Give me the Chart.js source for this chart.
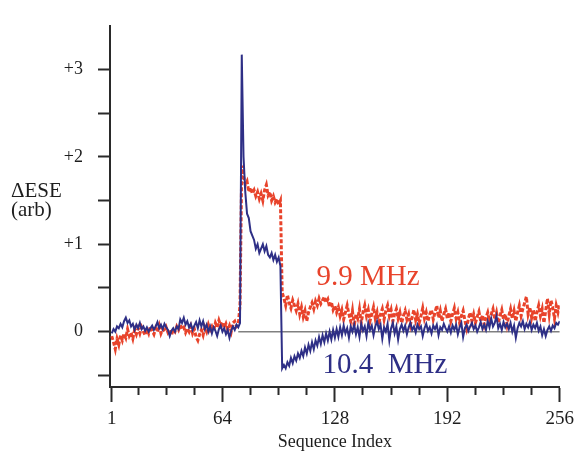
<!DOCTYPE html>
<html>
<head>
<meta charset="utf-8">
<script src="https://cdn.jsdelivr.net/npm/chart.js@4.4.1/dist/chart.umd.min.js"></script>
<style>
  html, body { margin: 0; padding: 0; background: #fff; }
  #wrap { width: 580px; height: 455px; }
</style>
</head>
<body>
<div id="wrap"><canvas id="eseChart" width="580" height="455"></canvas></div>
<script>
// sequence index 1..256
var seqIndex = [];
for (var i = 1; i <= 256; i++) seqIndex.push(i);

// 10.4 MHz trace (blue, solid), one value per sequence index
var trace104 = [
  -0.02, 0.03, 0.00, 0.06, 0.04, 0.09, 0.05, 0.12, 0.16, 0.10, 0.13, 0.06, 0.09, 0.02, 0.08, 0.04,
  0.10, 0.03, 0.06, 0.01, 0.05, 0.00, 0.04, 0.07, 0.02, 0.06, 0.11, 0.04, 0.08, 0.03, 0.09, 0.05,
  0.02, -0.05, 0.01, 0.04, 0.00, 0.06, 0.03, 0.14, 0.10, 0.16, 0.08, 0.12, 0.05, 0.09, 0.02, 0.07,
  0.11, 0.04, 0.13, 0.06, 0.12, 0.03, 0.08, 0.00, 0.06, -0.02, 0.05, 0.01, -0.05, 0.03, 0.07, 0.00,
  0.04, -0.03, 0.02, -0.07, 0.01, 0.06, 0.02, 0.08, 0.05, 0.10, 3.17, 2.00, 1.60, 1.35, 1.30, 1.15,
  1.10, 1.05, 0.95, 1.00, 0.90, 0.95, 1.00, 0.92, 0.98, 0.88, 0.85, 0.90, 0.82, 0.88, 0.80, 0.85,
  0.75, -0.42, -0.38, -0.42, -0.35, -0.39, -0.30, -0.36, -0.28, -0.33, -0.25, -0.30, -0.22, -0.28, -0.18, -0.25,
  -0.15, -0.22, -0.12, -0.20, -0.10, -0.16, -0.06, -0.14, -0.04, -0.12, -0.02, -0.10, 0.00, -0.09, 0.02, -0.07,
  0.03, -0.06, 0.05, -0.04, 0.07, -0.02, 0.04, -0.07, 0.06, 0.00, 0.08, -0.03, 0.05, -0.06, 0.09, 0.01,
  0.06, -0.05, 0.10, 0.02, 0.07, -0.04, 0.06, 0.12, 0.03, 0.08, -0.08, 0.05, 0.00, 0.09, -0.10, 0.04,
  0.10, -0.02, 0.06, -0.09, 0.03, 0.08, 0.01, 0.07, -0.03, 0.05, 0.10, 0.02, 0.06, -0.01, 0.08, 0.03,
  0.06, -0.05, 0.04, 0.09, 0.01, 0.05, -0.02, 0.07, 0.03, 0.08, -0.04, 0.05, 0.02, 0.09, 0.04, 0.00,
  0.06, -0.01, 0.07, 0.02, 0.08, -0.03, 0.05, 0.10, -0.06, 0.04, 0.08, 0.01, 0.06, 0.10, 0.03, 0.07,
  0.00, 0.05, 0.11, 0.03, 0.08, 0.02, 0.12, 0.05, 0.15, 0.06, 0.10, 0.18, 0.04, 0.09, 0.02, 0.11,
  0.05, 0.09, 0.03, 0.10, 0.00, 0.07, -0.07, 0.04, 0.10, 0.06, 0.12, 0.03, 0.09, 0.05, 0.11, 0.02,
  0.08, 0.04, 0.10, 0.01, 0.06, -0.04, 0.03, -0.05, 0.02, 0.06, 0.01, 0.07, 0.04, 0.10, 0.08, 0.12
];

// 9.9 MHz trace (red, dotted)
var trace99 = [
  -0.05, -0.12, -0.20, -0.08, -0.15, -0.04, -0.10, -0.02, -0.07, 0.03, -0.05, -0.01, -0.08, 0.02, -0.03, 0.04,
  -0.02, 0.05, 0.00, -0.04, 0.03, -0.02, 0.06, 0.01, -0.03, 0.04, 0.00, 0.07, -0.02, 0.03, 0.00, 0.05,
  -0.01, 0.02, -0.04, 0.03, 0.00, 0.06, 0.02, 0.08, 0.03, 0.05, -0.01, 0.04, 0.00, 0.06, -0.02, 0.03,
  -0.06, -0.10, -0.03, 0.02, -0.04, 0.05, 0.00, 0.08, 0.02, 0.06, 0.01, 0.10, 0.05, 0.13, 0.07, 0.11,
  0.04, 0.09, 0.02, 0.07, 0.00, 0.10, 0.12, 0.06, 0.08, 0.30, 1.90, 1.78, 1.68, 1.72, 1.60, 1.65,
  1.58, 1.62, 1.55, 1.60, 1.52, 1.58, 1.50, 1.62, 1.68, 1.56, 1.60, 1.50, 1.55, 1.48, 1.52, 1.45,
  1.50, 0.45, 0.38, 0.30, 0.42, 0.33, 0.27, 0.36, 0.30, 0.24, 0.32, 0.20, 0.28, 0.17, 0.24, 0.12,
  0.22, 0.28, 0.33, 0.26, 0.35, 0.30, 0.38, 0.32, 0.36, 0.40, 0.33, 0.37, 0.28, 0.34, 0.25, 0.30,
  0.22, 0.28, 0.18, 0.25, 0.14, 0.22, 0.30, 0.20, 0.12, 0.24, 0.06, 0.20, 0.15, 0.26, 0.10, 0.22,
  0.30, 0.18, 0.25, 0.12, 0.20, 0.28, 0.15, 0.22, 0.08, 0.20, 0.26, 0.14, 0.24, 0.30, 0.18, 0.25,
  0.12, 0.20, 0.26, 0.15, 0.22, 0.10, 0.18, 0.24, 0.14, 0.20, 0.08, 0.17, 0.25, 0.13, 0.20, 0.10,
  0.18, 0.27, 0.15, 0.22, 0.12, 0.20, 0.25, 0.14, 0.22, 0.30, 0.16, 0.24, 0.12, 0.20, 0.26, 0.15,
  0.22, 0.12, 0.20, 0.27, 0.15, 0.22, 0.10, 0.18, 0.24, 0.13, 0.04, 0.15, 0.22, 0.12, 0.20, 0.10,
  0.17, 0.23, 0.12, 0.19, 0.08, 0.16, 0.22, 0.12, 0.20, 0.26, 0.14, 0.22, 0.10, 0.18, 0.25, 0.14,
  0.20, 0.08, 0.18, 0.26, 0.15, 0.24, 0.12, 0.22, 0.30, 0.18, 0.26, 0.33, 0.40, 0.20, 0.28, 0.16,
  0.25, 0.12, 0.22, 0.30, 0.18, 0.26, 0.10, 0.24, 0.38, 0.20, 0.36, 0.28, 0.15, 0.30, 0.22, 0.32
];

// zero reference line runs from the pulse to the end
var zeroLineFrom = 73;
var zeroLineTo = 256;

var xTickValues = [1, 16, 32, 48, 64, 80, 96, 112, 128, 144, 160, 176, 192, 208, 224, 240, 256];
var xMajorTicks = [1, 64, 128, 192, 256];
var yTickValues = [-0.5, 0, 0.5, 1, 1.5, 2, 2.5, 3];
var yTickLabels = { '0': '0', '1': '+1', '2': '+2', '3': '+3' };

var axisColor = '#2a2a2a';
var serif = "'Liberation Serif', 'Times New Roman', serif";

function toPoints(values) {
    return values.map(function (v, i) { return { x: seqIndex[i], y: v }; });
}

var labelPlugin = {
    id: 'figureText',
    afterDraw: function (chart) {
        var c = chart.ctx;
        var xs = chart.scales.x, ys = chart.scales.y;
        c.save();
        c.textBaseline = 'alphabetic';
        c.textAlign = 'left';

        c.fillStyle = '#1e1e1e';
        c.font = '21px ' + serif;
        c.fillText('\u0394ESE', 11, 197);
        c.fillText('(arb)', 11, 216);

        c.font = '29px ' + serif;
        c.fillStyle = '#e8432b';
        c.fillText('9.9 MHz', xs.getPixelForValue(117.5), ys.getPixelForValue(0.53));
        c.fillStyle = '#2e2f86';
        c.fillText('10.4  MHz', xs.getPixelForValue(121), ys.getPixelForValue(-0.47));
        c.restore();
    }
};

var ctx = document.getElementById('eseChart').getContext('2d');

new Chart(ctx, {
    type: 'line',
    data: {
        datasets: [
            {
                label: '10.4 MHz',
                data: toPoints(trace104),
                borderColor: '#2e2f86',
                borderWidth: 2,
                pointRadius: 0,
                tension: 0,
                order: 1
            },
            {
                label: '9.9 MHz',
                data: toPoints(trace99),
                borderColor: '#e8432b',
                borderWidth: 3,
                borderDash: [4, 2],
                pointRadius: 0,
                tension: 0,
                order: 2
            },
            {
                label: 'zero',
                data: [{ x: zeroLineFrom, y: 0 }, { x: zeroLineTo, y: 0 }],
                borderColor: '#808080',
                borderWidth: 1.5,
                pointRadius: 0,
                order: 3
            }
        ]
    },
    options: {
        responsive: false,
        devicePixelRatio: 1,
        animation: false,
        layout: { padding: { top: 15, right: 19, left: 0, bottom: 0 } },
        plugins: {
            legend: { display: false },
            tooltip: { enabled: false }
        },
        scales: {
            x: {
                type: 'linear',
                min: 0,
                max: 256,
                afterBuildTicks: function (scale) {
                    scale.ticks = xTickValues.map(function (v) { return { value: v }; });
                },
                afterFit: function (scale) { scale.height = 68; },
                ticks: {
                    autoSkip: false,
                    maxRotation: 0,
                    padding: 6,
                    color: '#1e1e1e',
                    font: { family: serif, size: 19 },
                    callback: function (value) {
                        return xMajorTicks.indexOf(value) >= 0 ? String(value) : '';
                    }
                },
                grid: {
                    drawOnChartArea: false,
                    tickLength: 15,
                    tickWidth: 2,
                    tickColor: axisColor,
                    tickBorderDash: function (c) {
                        return xMajorTicks.indexOf(c.tick.value) >= 0 ? [] : [7, 30];
                    }
                },
                border: { display: true, color: axisColor, width: 2 },
                title: {
                    display: true,
                    text: 'Sequence Index',
                    color: '#1e1e1e',
                    font: { family: serif, size: 18 },
                    padding: { top: 0, bottom: 2 }
                }
            },
            y: {
                type: 'linear',
                min: -0.633,
                max: 3.5,
                afterBuildTicks: function (scale) {
                    scale.ticks = yTickValues.map(function (v) { return { value: v }; });
                },
                afterFit: function (scale) { scale.width = 110; },
                ticks: {
                    autoSkip: false,
                    padding: 15,
                    color: '#1e1e1e',
                    font: { family: serif, size: 18 },
                    callback: function (value) {
                        return yTickLabels[String(value)] || '';
                    }
                },
                grid: {
                    drawOnChartArea: false,
                    tickLength: 12,
                    tickWidth: 2,
                    tickColor: axisColor
                },
                border: { display: true, color: axisColor, width: 2 }
            }
        }
    },
    plugins: [labelPlugin]
});
</script>
</body>
</html>
